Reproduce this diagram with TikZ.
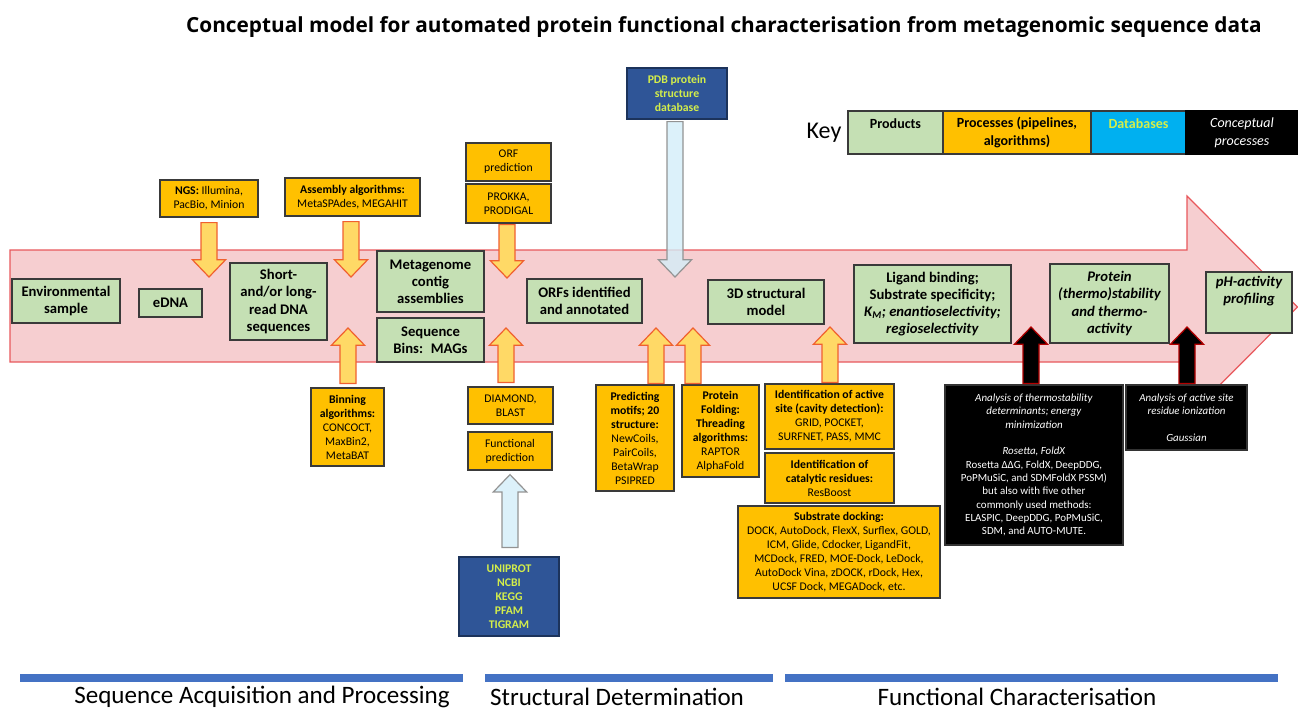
\documentclass[tikz,border=0pt]{standalone}
\usepackage{fontspec}
\setmainfont{Carlito}
\newfontfamily\titlefont{Open Sans}
\usetikzlibrary{calc}
\definecolor{prodg}{HTML}{C5E0B4}
\definecolor{procy}{HTML}{FFC000}
\definecolor{dbblue}{HTML}{2F5597}
\definecolor{dbtext}{HTML}{D4EE4A}
\definecolor{keycyan}{HTML}{00B0F0}
\definecolor{pinkfill}{HTML}{F6CED0}
\definecolor{pinkline}{HTML}{E8585C}
\definecolor{arrfill}{HTML}{FFD966}
\definecolor{arrline}{HTML}{F0602F}
\definecolor{ltblue}{HTML}{D3EEF9}
\definecolor{barblue}{HTML}{4472C4}
\definecolor{boxline}{HTML}{3A3A3A}
\newcommand{\mybox}[7]{\node[#1, minimum width={(#5-#3)*0.75pt}, minimum height={(#6-#4)*0.75pt}] (#2) at ({(#3+#5)/2},{(#4+#6)/2}) {#7};}
\newcommand{\blockarrow}[3]{%
  \draw[#1] let \p1=#2, \p2=#3, \n1={sign(\y2-\y1)} in
  (\x2-6pt,\y1) -- (\x2-6pt,{\y2-(\n1)*13pt}) -- (\x2-12.5pt,{\y2-(\n1)*13pt}) -- (\x2,\y2)
  -- (\x2+12.5pt,{\y2-(\n1)*13pt}) -- (\x2+6pt,{\y2-(\n1)*13pt}) -- (\x2+6pt,\y1) -- cycle;}
\begin{document}
\begin{tikzpicture}[x=0.75pt,y=-0.75pt,
  base/.style={draw=boxline, line width=0.9pt, inner sep=1pt, align=center},
  prod/.style={base, fill=prodg, font=\bfseries\fontsize{11}{12.8}\selectfont},
  prodit/.style={prod, font=\bfseries\itshape\fontsize{11}{12.8}\selectfont},
  proc/.style={base, fill=procy, font=\fontsize{8.8}{10.5}\selectfont},
  concept/.style={base, fill=black, draw=black!80, text=white, font=\fontsize{8.2}{10}\selectfont},
  dbase/.style={base, fill=dbblue, draw=dbblue!60!black, text=dbtext, font=\bfseries\fontsize{8.8}{10.5}\selectfont},
  keybox/.style={base, font=\bfseries\fontsize{10.5}{13.5}\selectfont},
  oarrow/.style={fill=arrfill, draw=arrline, line width=0.9pt},
  barrow/.style={fill=ltblue, fill opacity=0.8, draw=gray!85, line width=0.9pt},
  karrow/.style={fill=black, draw=red!70!black, line width=0.9pt},
  bar/.style={draw=barblue, line width=6pt},
  phase/.style={font=\fontsize{18.8}{20}\selectfont}]
\useasboundingbox (0,0) rectangle (1298,710);

% title
\node[font=\titlefont\bfseries\fontsize{15.6}{18}\selectfont] (title) at (724,27) {Conceptual model for automated protein functional characterisation from metagenomic sequence data};

% main arrow
\draw[fill=pinkfill, draw=pinkline, line width=0.9pt] (10,250) -- (1187,250) -- (1187,196) -- (1297.4,307) -- (1187,418) -- (1187,362) -- (10,362) -- cycle;

% products
\mybox{prod}{env}{12}{279}{120}{323}{Environmental\\sample}
\mybox{prod}{edna}{139}{289}{202}{317}{eDNA}
\mybox{prod}{reads}{230}{263}{327}{340}{Short-\\and/or long-\\read DNA\\sequences}
\mybox{prod}{contig}{377}{251}{484}{312}{Metagenome\\contig\\assemblies}
\mybox{prod}{bins}{377}{318}{484}{362}{Sequence\\Bins:~ MAGs}
\mybox{prod}{orfs}{527}{279}{642}{323}{ORFs identified\\and annotated}
\mybox{prod}{model}{708}{280}{824}{324}{3D structural\\model}
\mybox{prod}{ligand}{854}{265}{1011}{343}{Ligand binding;\\Substrate specificity;\\\textit{K\textsubscript{M}; enantioselectivity;}\\\textit{regioselectivity}}
\mybox{prodit}{stab}{1050}{264}{1169}{343}{Protein\\(thermo)stability\\and thermo-\\activity}
\mybox{prodit}{ph}{1206}{272}{1292}{333}{pH-activity\\profiling\\[6pt]\mbox{}}

% processes
\mybox{proc}{ngs}{160}{180}{258}{217}{\textbf{NGS:} Illumina,\\PacBio, Minion}
\mybox{proc}{asm}{285}{178}{420}{216}{\textbf{Assembly algorithms:}\\MetaSPAdes, MEGAHIT}
\mybox{proc}{orfp}{466}{143}{551}{181}{ORF\\prediction}
\mybox{proc}{prokka}{466}{184}{551}{223}{PROKKA,\\PRODIGAL}
\mybox{proc}{bin}{311}{388}{384}{466}{\textbf{Binning}\\\textbf{algorithms:}\\CONCOCT,\\MaxBin2,\\MetaBAT}
\mybox{proc}{diamond}{468}{387}{553}{424}{DIAMOND,\\BLAST}
\mybox{proc}{funcp}{468}{432}{552}{470}{Functional\\prediction}
\mybox{proc}{motifs}{596}{385}{674}{491}{\textbf{Predicting}\\\textbf{motifs; 20}\\\textbf{structure:}\\NewCoils,\\PairCoils,\\BetaWrap\\PSIPRED}
\mybox{proc}{fold}{682}{385}{759}{477}{\textbf{Protein}\\\textbf{Folding:}\\\textbf{Threading}\\\textbf{algorithms:}\\RAPTOR\\AlphaFold}
\mybox{proc}{active}{765}{384}{894}{449}{\textbf{Identification of active}\\\textbf{site (cavity detection):}\\GRID, POCKET,\\SURFNET, PASS, MMC}
\mybox{proc}{catal}{765}{453}{894}{503}{\textbf{Identification of}\\\textbf{catalytic residues:}\\ResBoost}
\mybox{proc}{dock}{738}{506}{940}{598}{\textbf{Substrate docking:}\\DOCK, AutoDock, FlexX, Surflex, GOLD,\\ICM, Glide, Cdocker, LigandFit,\\MCDock, FRED, MOE-Dock, LeDock,\\AutoDock Vina, zDOCK, rDock, Hex,\\UCSF Dock, MEGADock, etc.}

% conceptual processes
\mybox{concept}{therm}{945}{385}{1123}{545}{\textit{Analysis of thermostability}\\\textit{determinants; energy}\\\textit{minimization}\\[10pt]\textit{Rosetta, FoldX}\\Rosetta ΔΔG, FoldX, DeepDDG,\\PoPMuSiC, and SDMFoldX PSSM)\\but also with five other\\commonly used methods:\\ELASPIC, DeepDDG, PoPMuSiC,\\SDM, and AUTO-MUTE.}
\mybox{concept}{ion}{1126}{385}{1247}{450}{\textit{Analysis of active site}\\\textit{residue ionization}\\[10pt]\textit{Gaussian}}

% databases
\mybox{dbase}{pdb}{627}{68}{727}{119}{PDB protein\\structure\\database}
\mybox{dbase}{uni}{459}{557}{559}{636}{UNIPROT\\NCBI\\KEGG\\PFAM\\TIGRAM}

% arrow tips
\coordinate (tngs) at (209,277);
\coordinate (tasm) at (351,277);
\coordinate (torf) at (507,278);
\coordinate (tpdb) at (675,277);
\coordinate (tbin) at (348,328);
\coordinate (tdia) at (506,328);
\coordinate (tmot) at (656,328);
\coordinate (tfold) at (693,328);
\coordinate (tact) at (830,327);
\coordinate (ttherm) at (1031,327);
\coordinate (tion) at (1187,327);

% block arrows
\blockarrow{oarrow}{($(ngs.south)+(0,5)$)}{(tngs)}
\blockarrow{oarrow}{($(asm.south)+(0,5)$)}{(tasm)}
\blockarrow{oarrow}{($(prokka.south)+(0,1)$)}{(torf)}
\blockarrow{barrow}{($(pdb.south)+(0,2)$)}{(tpdb)}
\blockarrow{oarrow}{($(bin.north)+(0,-4)$)}{(tbin)}
\blockarrow{oarrow}{($(diamond.north)+(0,-4)$)}{(tdia)}
\blockarrow{oarrow}{($(motifs.north)+(0,-1)$)}{(tmot)}
\blockarrow{oarrow}{($(fold.north)+(0,-1)$)}{(tfold)}
\blockarrow{oarrow}{($(active.north)+(0,-1)$)}{(tact)}
\blockarrow{karrow}{($(therm.north)+(0,-1)$)}{(ttherm)}
\blockarrow{karrow}{($(ion.north)+(0,-1)$)}{(tion)}
\blockarrow{barrow}{($(uni.north)+(0,-9)$)}{($(funcp.south)+(0,4)$)}

% key
\node[font=\fontsize{18}{20}\selectfont] (keylbl) at (824,133) {Key};
\mybox{keybox, fill=prodg}{kprod}{848}{111}{943}{154}{Products\\\mbox{}}
\mybox{keybox, fill=procy}{kproc}{943}{111}{1091}{154}{Processes (pipelines,\\algorithms)}
\mybox{keybox, fill=keycyan, text=dbtext}{kdb}{1091}{111}{1186}{154}{Databases\\\mbox{}}
\mybox{keybox, fill=black, draw=black, text=white, font=\itshape\fontsize{10.5}{13.5}\selectfont}{kcon}{1186}{111}{1298}{154}{Conceptual\\processes}

% phases
\draw[bar] (20,678) -- (463,678);
\draw[bar] (485,678) -- (773,678);
\draw[bar] (785,678) -- (1278,678);
\node[phase] (ph1) at (262,697) {Sequence Acquisition and Processing};
\node[phase] (ph2) at (617,697) {Structural Determination};
\node[phase] (ph3) at (1017,697) {Functional Characterisation};
\end{tikzpicture}
\end{document}
